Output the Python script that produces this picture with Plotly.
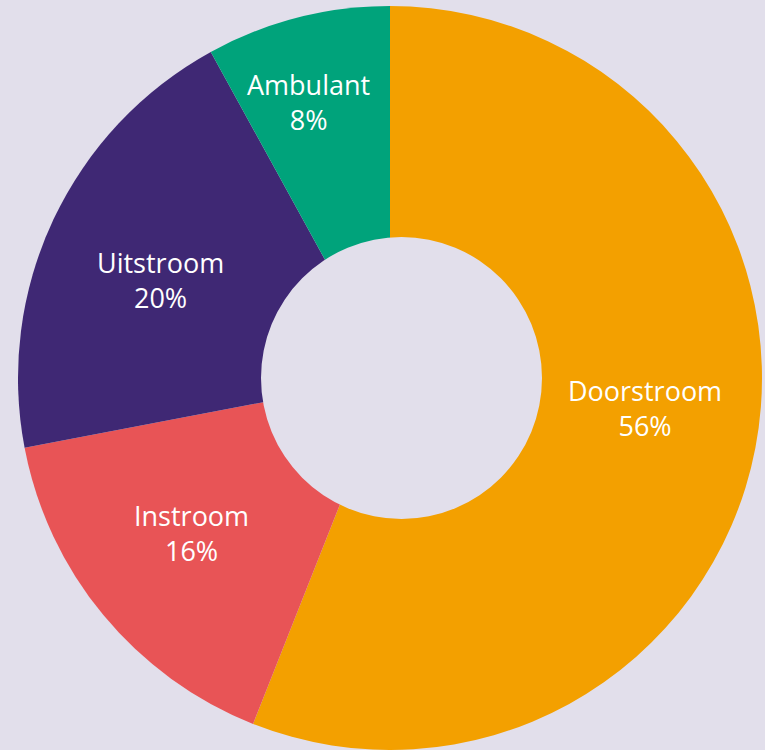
import plotly.graph_objects as go

# Data
categories = ["Doorstroom", "Instroom", "Uitstroom", "Ambulant"]
values = [56, 16, 20, 8]

# Styling
colors = ["#F3A000", "#E85456", "#3F2874", "#00A37B"]
bg = "#E2DFEB"
W, H = 765, 750

# label anchor positions in pixels (layout only)
label_px = [(645, 408), (191, 533), (160, 280), (308, 102)]

fig = go.Figure()
fig.add_trace(go.Pie(
    labels=categories,
    values=values,
    sort=False,
    direction="clockwise",
    rotation=0,
    marker=dict(colors=colors, line=dict(width=0)),
    textinfo="none",
    hoverinfo="label+percent",
    domain=dict(x=[18 / W, 762 / W], y=[0, 744 / H]),
    showlegend=False,
))

total = sum(values)
annotations = []
for cat, val, (px, py) in zip(categories, values, label_px):
    pct = round(100 * val / total)
    annotations.append(dict(
        x=px / W, y=1 - py / H, xref="paper", yref="paper",
        xanchor="center", yanchor="middle",
        text=f"{cat}<br>{pct}%", showarrow=False,
        font=dict(family="Open Sans", size=27, color="white"),
    ))

# offset hole
hx0, hy0, hx1, hy1 = 261, 237, 542, 519
fig.update_layout(
    width=W, height=H,
    margin=dict(l=0, r=0, t=0, b=0),
    paper_bgcolor=bg, plot_bgcolor=bg,
    annotations=annotations,
    shapes=[dict(type="circle", xref="paper", yref="paper",
                 x0=hx0 / W, x1=hx1 / W, y0=1 - hy1 / H, y1=1 - hy0 / H,
                 fillcolor=bg, line=dict(width=0), layer="above")],
)

fig.write_html(
    "out.html",
    config={"displayModeBar": False},
    post_script="document.body.style.margin='0';document.body.style.background='" + bg + "';",
)
